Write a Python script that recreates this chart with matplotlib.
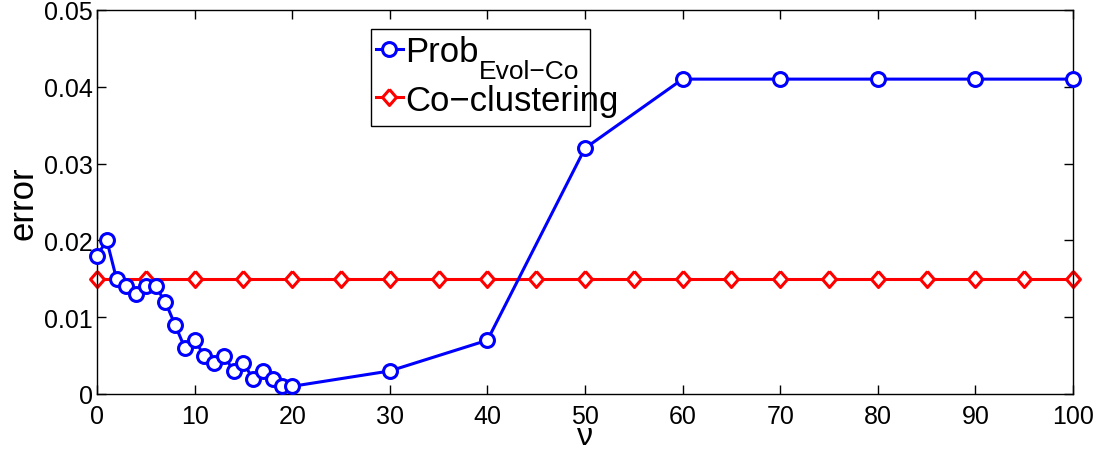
import matplotlib
matplotlib.use("Agg")
import matplotlib.pyplot as plt
from matplotlib.patches import Rectangle

plt.rcParams['font.family'] = ['Liberation Sans', 'DejaVu Sans']

nu_prob = [0, 1, 2, 3, 4, 5, 6, 7, 8, 9, 10, 11, 12, 13, 14, 15, 16, 17, 18, 19, 20,
           30, 40, 50, 60, 70, 80, 90, 100]
err_prob = [0.018, 0.020, 0.015, 0.014, 0.013, 0.014, 0.014, 0.012, 0.009, 0.006, 0.007,
            0.005, 0.004, 0.005, 0.003, 0.004, 0.002, 0.003, 0.002, 0.001, 0.001,
            0.003, 0.007, 0.032, 0.041, 0.041, 0.041, 0.041, 0.041]
nu_co = [0, 5, 10, 15, 20, 25, 30, 35, 40, 45, 50, 55, 60, 65, 70, 75, 80, 85, 90, 95, 100]
err_co = [0.015] * len(nu_co)

xticks = [0, 10, 20, 30, 40, 50, 60, 70, 80, 90, 100]
yticks = [0, 0.01, 0.02, 0.03, 0.04, 0.05]
yticklabels = ['0', '0.01', '0.02', '0.03', '0.04', '0.05']
label_main = 'Prob'
label_sub = 'Evol\u2212Co'
label_co = 'Co\u2212clustering'

diamond = [(0, 1), (0.87, 0), (0, -1), (-0.87, 0), (0, 1)]

fig = plt.figure(figsize=(11.12, 4.52), dpi=100)
ax = fig.add_axes([97 / 1112, 57 / 452, 976 / 1112, 384 / 452])

ax.plot(nu_prob, err_prob, color='#0000ff', lw=2.2, marker='o', ms=10, mew=2.2,
        mfc='white', mec='#0000ff', label=label_main, zorder=3, clip_on=False)
ax.plot(nu_co, err_co, color='#ff0000', lw=2.2, marker=diamond, ms=11.5, mew=2.2,
        mfc='white', mec='#ff0000', label=label_co, zorder=2, clip_on=False)

ax.set_xlim(0, 100)
ax.set_ylim(0, 0.05)
ax.set_xticks(xticks)
ax.set_yticks(yticks)
ax.set_yticklabels(yticklabels)
ax.tick_params(direction='in', top=True, right=True, labelsize=18, length=6.5, width=1)
ax.tick_params(axis='y', pad=3)
ax.tick_params(axis='x', pad=7)
for s in ax.spines.values():
    s.set_linewidth(1)

ax.set_xlabel('\u03bd', fontsize=23)
ax.xaxis.set_label_coords(0.5, -0.130)
ax.xaxis.label.set_va('baseline')
ax.set_ylabel('error', fontsize=25, labelpad=3)

leg = ax.legend(loc='upper left', bbox_to_anchor=(0.2858, 0.935), fontsize=25,
                frameon=False, handlelength=0.78, handletextpad=0.06,
                borderpad=0, labelspacing=0.45, borderaxespad=0)

# legend frame (MATLAB style, text may overflow)
ax.add_patch(Rectangle((0.2807, 0.6979), 0.2244, 0.2526, transform=ax.transAxes,
                       fill=True, facecolor='white', edgecolor='black', lw=1,
                       zorder=4, clip_on=False))
leg.set_zorder(5)

# subscript for first legend entry
fig.canvas.draw()
t0 = leg.get_texts()[0]
bb = t0.get_window_extent()
inv = fig.transFigure.inverted()
x_end, y_bot = inv.transform((bb.x1, bb.y0))
fig.text(x_end, y_bot - 15 / 452, label_sub, fontsize=19, ha='left', va='bottom',
         zorder=6)

fig.savefig('out.png', dpi=100)
